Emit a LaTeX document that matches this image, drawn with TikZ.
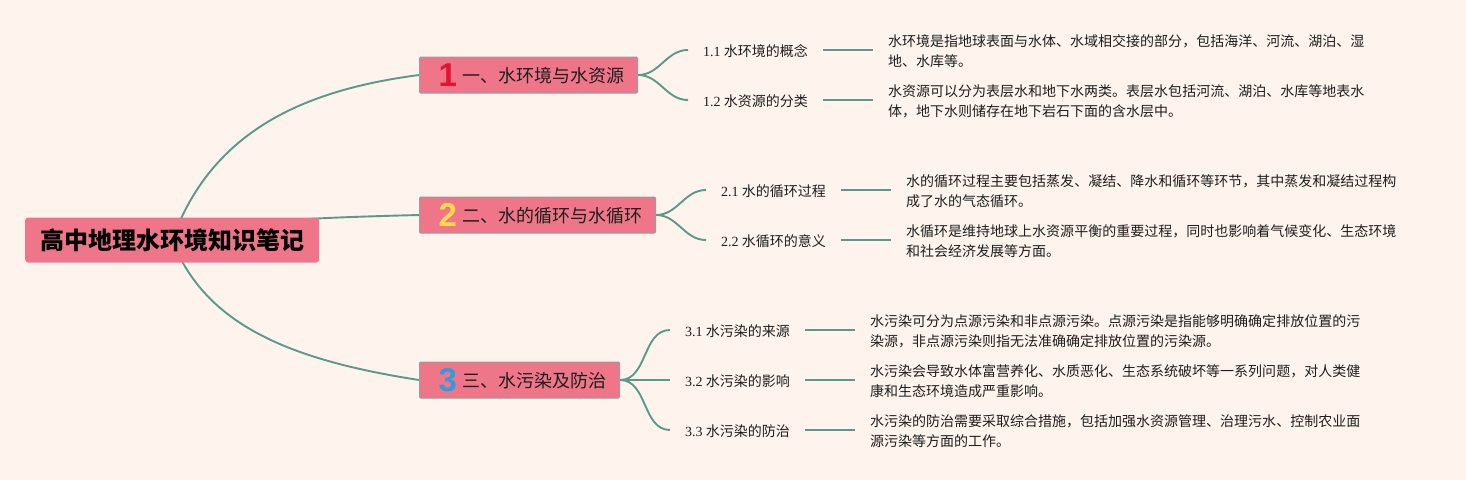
\documentclass[tikz,border=0pt]{standalone}
\usepackage{fontspec}
\setmainfont{Noto Sans CJK SC}
\newfontfamily\numfont{Liberation Serif}
\newfontfamily\digitfont{Liberation Sans}
\usetikzlibrary{positioning, backgrounds}
\definecolor{bgPage}{HTML}{FEF3ED}
\definecolor{bgTopic}{HTML}{EE7688}
\definecolor{borderTopic}{HTML}{98A09A}
\definecolor{branchColor}{HTML}{5B9A88}
\definecolor{textMain}{HTML}{1E1E1E}
\definecolor{digitRed}{HTML}{E2152E}
\definecolor{digitYellow}{HTML}{FBDC4E}
\definecolor{digitBlue}{HTML}{2F9BE0}
\newcommand{\topiclabel}[3]{\hspace*{19pt}\makebox[24pt][l]{\smash{\raisebox{-4pt}{\fontsize{33}{33}\digitfont\bfseries\color{#1}#2}}}#3\hspace*{13pt}}
\newcommand{\subtext}[2]{{\numfont #1} #2}
\tikzset{
  rootbox/.style={
    fill=bgTopic, rounded corners=3pt, anchor=west,
    minimum width=294pt, minimum height=45pt, inner xsep=0pt,
    font=\fontsize{24}{24}\selectfont\bfseries, text=black,
  },
  topicbox/.style={
    draw=borderTopic, fill=bgTopic, rounded corners=1pt, anchor=west,
    minimum height=36pt, inner xsep=0pt, inner ysep=0pt, line width=1pt,
    text height=18pt, text depth=2.4pt,
    font=\fontsize{18}{18}\selectfont, text=textMain,
  },
  subbox/.style={
    anchor=west, inner xsep=15pt, inner ysep=0pt,
    text height=15pt, text depth=2.4pt,
    font=\fontsize{14}{18}\selectfont, text=textMain,
  },
  descbox/.style={
    inner xsep=15pt, inner ysep=0pt, align=left, yshift=-1pt,
    font=\fontsize{14}{20}\selectfont, text=textMain,
  },
  branch/.style={draw=branchColor, line width=1.9pt},
}
\begin{document}
\begin{tikzpicture}[x=1pt, y=-1pt]
  \useasboundingbox (0,0) rectangle (1466,480);

  % === Root and main topics ===
  \node[rootbox] (root) at (25,240) {高中地理水环境知识笔记};
  \node[topicbox] (topicA) at (419,75) {\topiclabel{digitRed}{1}{一、水环境与水资源}};
  \node[topicbox] (topicB) at (419,215) {\topiclabel{digitYellow}{2}{二、水的循环与水循环}};
  \node[topicbox] (topicC) at (419,380) {\topiclabel{digitBlue}{3}{三、水污染及防治}};

  % === First group ===
  \node[subbox] (subAa) at (688,50) {\subtext{1.1}{水环境的概念}};
  \node[subbox] (subAb) at (688,100) {\subtext{1.2}{水资源的分类}};
  \node[descbox, right=50pt of subAa] (descAa) {水环境是指地球表面与水体、水域相交接的部分，包括海洋、河流、湖泊、湿\\地、水库等。};
  \node[descbox, right=50pt of subAb] (descAb) {水资源可以分为表层水和地下水两类。表层水包括河流、湖泊、水库等地表水\\体，地下水则储存在地下岩石下面的含水层中。};

  % === Second group ===
  \node[subbox] (subBa) at (706,190) {\subtext{2.1}{水的循环过程}};
  \node[subbox] (subBb) at (706,240) {\subtext{2.2}{水循环的意义}};
  \node[descbox, right=50pt of subBa] (descBa) {水的循环过程主要包括蒸发、凝结、降水和循环等环节，其中蒸发和凝结过程构\\成了水的气态循环。};
  \node[descbox, right=50pt of subBb] (descBb) {水循环是维持地球上水资源平衡的重要过程，同时也影响着气候变化、生态环境\\和社会经济发展等方面。};

  % === Third group ===
  \node[subbox] (subCa) at (670,330) {\subtext{3.1}{水污染的来源}};
  \node[subbox] (subCb) at (670,380) {\subtext{3.2}{水污染的影响}};
  \node[subbox] (subCc) at (670,430) {\subtext{3.3}{水污染的防治}};
  \node[descbox, right=50pt of subCa] (descCa) {水污染可分为点源污染和非点源污染。点源污染是指能够明确确定排放位置的污\\染源，非点源污染则指无法准确确定排放位置的污染源。};
  \node[descbox, right=50pt of subCb] (descCb) {水污染会导致水体富营养化、水质恶化、生态系统破坏等一系列问题，对人类健\\康和生态环境造成严重影响。};
  \node[descbox, right=50pt of subCc] (descCc) {水污染的防治需要采取综合措施，包括加强水资源管理、治理污水、控制农业面\\源污染等方面的工作。};

  % === Branches behind the boxes ===
  \begin{scope}[on background layer]
    \fill[bgPage] (0,0) rectangle (1466,480);
    \draw[branch] (root.center) .. controls (212,130) and (305,90) .. (topicA.west);
    \draw[branch] (root.center) .. controls (210,222) and (300,218) .. (topicB.west);
    \draw[branch] (root.center) .. controls (205,325) and (290,360) .. (topicC.west);
    \foreach \from/\to in {topicA/subAa, topicA/subAb, topicB/subBa, topicB/subBb, topicC/subCa, topicC/subCb, topicC/subCc}
      \draw[branch] (\from.east) to[out=0, in=180] (\to.west);
    \foreach \from/\to in {subAa/descAa, subAb/descAb, subBa/descBa, subBb/descBb, subCa/descCa, subCb/descCb, subCc/descCc}
      \draw[branch] (\from.east) -- (\from.east -| \to.west);
  \end{scope}
\end{tikzpicture}
\end{document}
